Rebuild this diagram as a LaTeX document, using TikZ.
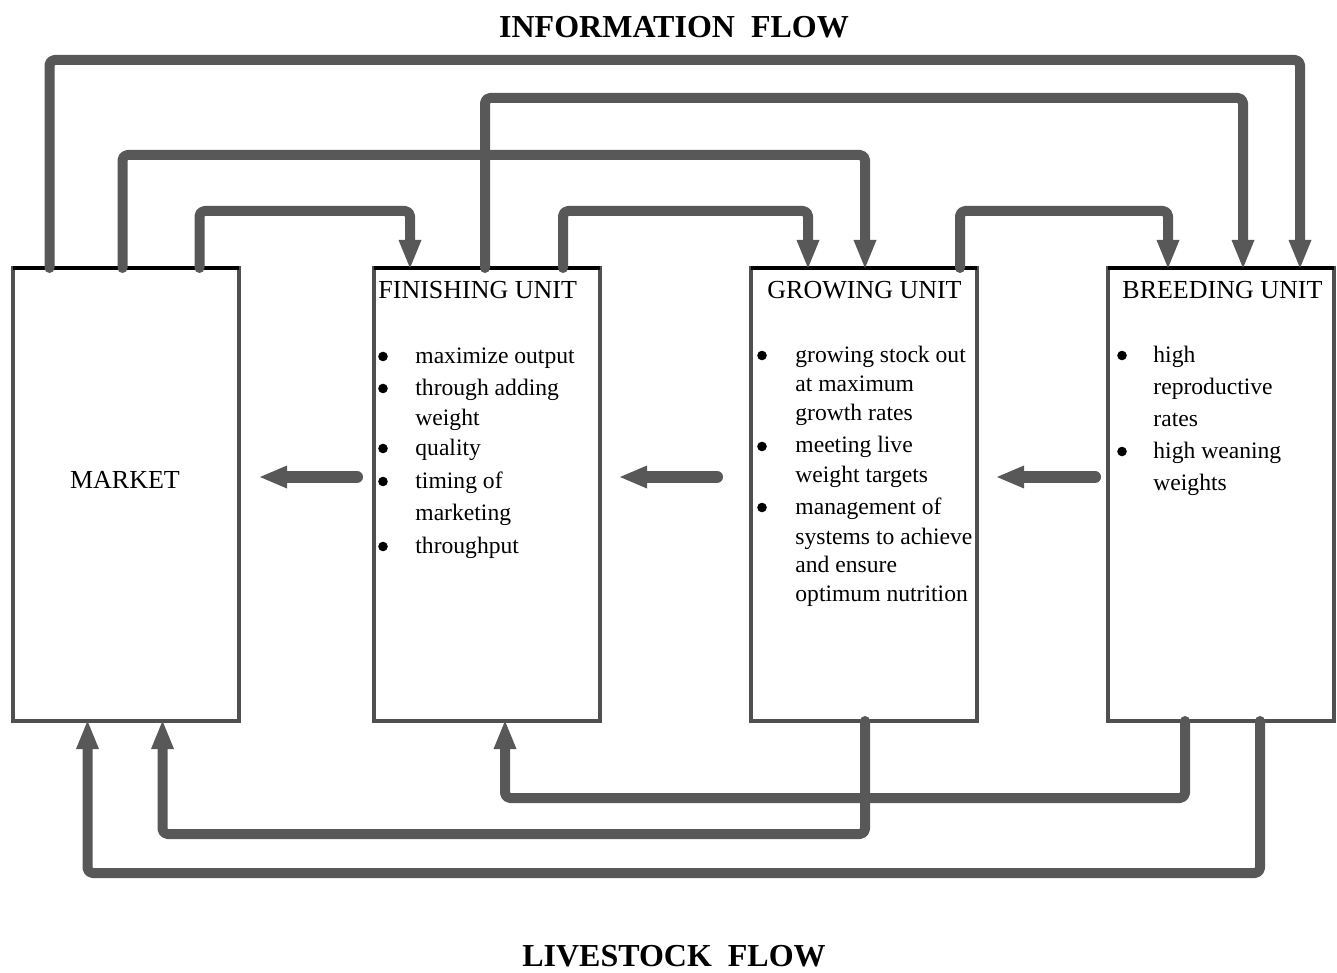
\documentclass[tikz,border=0pt]{standalone}
\usepackage{fontspec}
\setmainfont{Liberation Serif}
\usetikzlibrary{arrows.meta,calc}
\definecolor{flowgray}{RGB}{88,88,88}
\definecolor{boxgray}{RGB}{80,80,80}
\begin{document}
\begin{tikzpicture}[x=0.5pt,y=-0.5pt,
  unitbox/.style={draw=boxgray,line width=2pt,minimum width=113pt,minimum height=226.5pt,inner sep=0pt,outer sep=0pt},
  flow/.style={draw=flowgray,line width=5pt,rounded corners=2.5pt,line cap=round,line join=round},
  tiptri/.style={-{Triangle[width=11.5pt,length=14pt,line width=0pt]}},
  sidearrow/.style={draw=flowgray,line width=6pt,line cap=round,-{Triangle[width=11.5pt,length=13.5pt,line width=0pt]}},
  title/.style={font=\fontsize{16}{19}\selectfont\bfseries,anchor=base,inner sep=0pt},
  head/.style={font=\fontsize{13}{15.6}\selectfont,anchor=base west,inner sep=0pt},
  body/.style={font=\fontsize{11.8}{14.2}\selectfont,anchor=base west,inner sep=0pt},
  bul/.style={fill=black}]
\useasboundingbox (0,0) rectangle (1337,973);

% titles
\node[title] (infotitle) at (674,38) {INFORMATION\ \ FLOW};
\node[title] (livetitle) at (674,966) {LIVESTOCK\ \ FLOW};

% unit boxes
\node[unitbox] (market) at (125.5,494.5) {};
\node[unitbox] (finish) at (486.5,494.5) {};
\node[unitbox] (grow)   at (864,494.5) {};
\node[unitbox] (breed)  at (1220.5,494.5) {};
\foreach \b in {market,finish,grow,breed}
  \draw[black,line width=1.6pt] (\b.north west) -- (\b.north east);

% levels
\coordinate (yA) at (0,60);
\coordinate (yB) at (0,98);
\coordinate (yC) at (0,155);
\coordinate (yD) at (0,211);
\coordinate (yG) at (0,834);
\coordinate (yH) at (0,798);
\coordinate (yI) at (0,873);

% information flow (top)
\draw[flow,tiptri] ($(market.north west)+(37,0)$) coordinate (a0) -- (a0 |- yA) -| ($(breed.north west)+(192.5,0)$);
\draw[flow,tiptri] ($(finish.north west)+(111.5,0)$) coordinate (b0) -- (b0 |- yB) -| ($(breed.north west)+(135.5,0)$);
\draw[flow,tiptri] ($(market.north west)+(110,0)$) coordinate (c0) -- (c0 |- yC) -| ($(grow.north west)+(114,0)$);
\draw[flow,tiptri] ($(market.north west)+(187,0)$) coordinate (d0) -- (d0 |- yD) -| ($(finish.north west)+(36.5,0)$);
\draw[flow,tiptri] ($(finish.north west)+(189.5,0)$) coordinate (e0) -- (e0 |- yD) -| ($(grow.north west)+(57,0)$);
\draw[flow,tiptri] ($(grow.north west)+(209,0)$) coordinate (f0) -- (f0 |- yD) -| ($(breed.north west)+(60.5,0)$);

% livestock flow (bottom)
\draw[flow,tiptri] ($(grow.south west)+(114,0)$) coordinate (g0) -- (g0 |- yG) -| ($(market.south west)+(150,0)$);
\draw[flow,tiptri] ($(breed.south west)+(77.5,0)$) coordinate (h0) -- (h0 |- yH) -| ($(finish.south west)+(131.5,0)$);
\draw[flow,tiptri] ($(breed.south west)+(152.5,0)$) coordinate (i0) -- (i0 |- yI) -| ($(market.south west)+(75,0)$);

% livestock flow (middle arrows)
\coordinate (m1s) at ($(finish.west)+(-16.5,-17.5)$);
\coordinate (m1e) at ($(market.east)+(21.5,-17.5)$);
\coordinate (m2s) at ($(grow.west)+(-34,-17.5)$);
\coordinate (m2e) at ($(finish.east)+(20.5,-17.5)$);
\coordinate (m3s) at ($(breed.west)+(-12.5,-17.5)$);
\coordinate (m3e) at ($(grow.east)+(20,-17.5)$);
\draw[sidearrow] (m1s) -- (m1e);
\draw[sidearrow] (m2s) -- (m2e);
\draw[sidearrow] (m3s) -- (m3e);

% market
\node[font=\fontsize{13}{15.6}\selectfont,anchor=base,inner sep=0pt] (mlabel) at (125,488) {MARKET};

% finishing unit
\node[head] (fh) at (378,298) {FINISHING UNIT};
\node[body] (f1) at (415,363) {maximize output};
\node[body] (f2) at (415,395) {through adding};
\node[body] (f3) at (415,425) {weight};
\node[body] (f4) at (415,455) {quality};
\node[body] (f5) at (415,488) {timing of};
\node[body] (f6) at (415,520) {marketing};
\node[body] (f7) at (415,553) {throughput};
\foreach \yy in {356.5,388.5,448.5,481.5,546.5}
  \fill[bul] (383,\yy) circle[radius=2.4pt];

% growing unit
\node[head] (gh) at (767,298) {GROWING UNIT};
\node[body] (g1) at (795,362) {growing stock out};
\node[body] (g2) at (795,391) {at maximum};
\node[body] (g3) at (795,420) {growth rates};
\node[body] (g4) at (795,452) {meeting live};
\node[body] (g5) at (795,482) {weight targets};
\node[body] (g6) at (795,514) {management of};
\node[body] (g7) at (795,544) {systems to achieve};
\node[body] (g8) at (795,572) {and ensure};
\node[body] (g9) at (795,601) {optimum nutrition};
\foreach \yy in {355.5,446.5,507.5}
  \fill[bul] (762,\yy) circle[radius=2.4pt];

% breeding unit
\node[head] (bh) at (1122,298) {BREEDING UNIT};
\node[body] (r1) at (1153,362) {high};
\node[body] (r2) at (1153,394) {reproductive};
\node[body] (r3) at (1153,426) {rates};
\node[body] (r4) at (1153,458) {high weaning};
\node[body] (r5) at (1153,490) {weights};
\foreach \yy in {355.5,451.5}
  \fill[bul] (1122,\yy) circle[radius=2.4pt];
\end{tikzpicture}
\end{document}
